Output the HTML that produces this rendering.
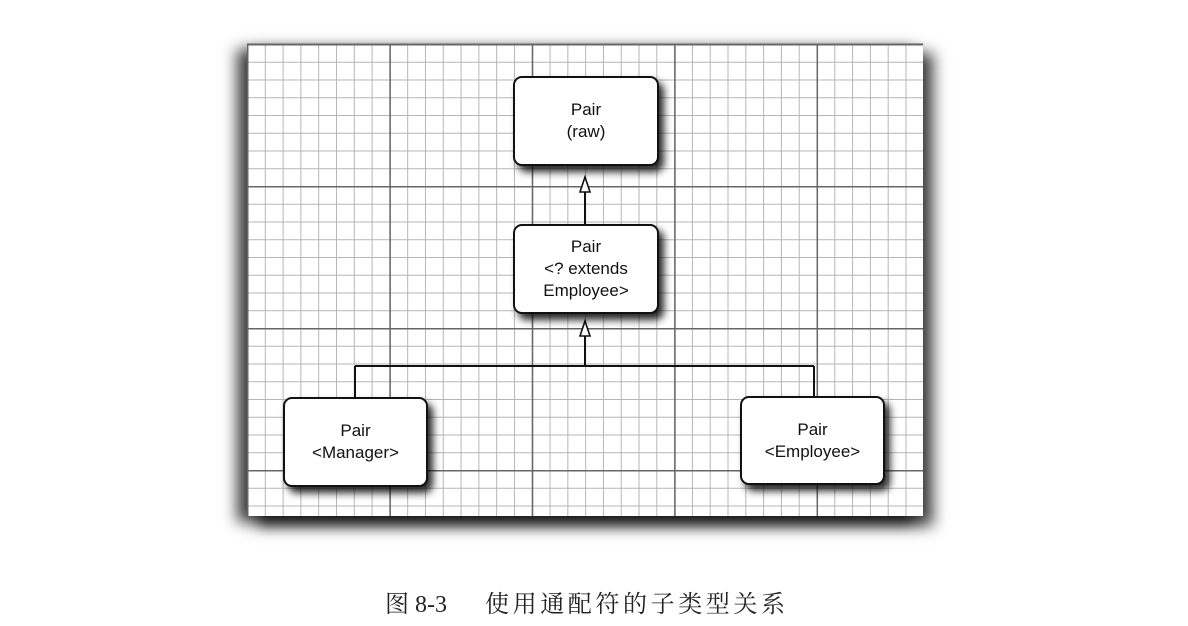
<!DOCTYPE html>
<html><head><meta charset="utf-8"><style>
body{margin:0;width:1188px;height:626px;background:#fff;overflow:hidden;position:relative;font-family:"Liberation Sans",sans-serif}
#grid{position:absolute;left:247px;top:43px;width:676px;height:472px;
background-color:#fff;
background-image:
linear-gradient(to right,#666 1.3px,transparent 1.3px),
linear-gradient(to bottom,#666 1.3px,transparent 1.3px),
linear-gradient(to right,#b5b5b5 1px,transparent 1px),
linear-gradient(to bottom,#b5b5b5 1px,transparent 1px);
background-size:142.4px 142px,142.4px 142px,17.8px 17.75px,17.8px 17.75px;
box-shadow:-10px 6px 14px rgba(0,0,0,.75), 10px 10px 14px rgba(0,0,0,.75);
border-top:1px solid #999}
.b{position:absolute;background:#fff;border:2px solid #111;border-radius:9px;box-shadow:5px 6px 8px rgba(0,0,0,.85);
display:flex;align-items:center;justify-content:center;text-align:center;font-size:17px;line-height:22px;color:#111}
.cap{position:absolute;top:584px;white-space:nowrap;font-size:24px;font-family:"Liberation Serif","Noto Serif CJK SC",serif;color:#222}
</style></head><body>
<div id="grid"></div>
<svg width="1188" height="626" style="position:absolute;left:0;top:0">
<g stroke="#111" stroke-width="2" fill="none">
<line x1="585" y1="192" x2="585" y2="224"/>
<line x1="585" y1="336" x2="585" y2="366"/>
<line x1="355" y1="366" x2="814" y2="366"/>
<line x1="355" y1="366" x2="355" y2="397"/>
<line x1="814" y1="366" x2="814" y2="396"/>
</g>
<g stroke="#111" stroke-width="1.6" fill="#fff">
<polygon points="585,177 580,192 590,192"/>
<polygon points="585,321 580,336 590,336"/>
</g>
</svg>
<div class="b" style="left:513px;top:76px;width:142px;height:86px">Pair<br>(raw)</div>
<div class="b" style="left:513px;top:224px;width:142px;height:86px">Pair<br>&lt;? extends<br>Employee&gt;</div>
<div class="b" style="left:283px;top:397px;width:141px;height:86px">Pair<br>&lt;Manager&gt;</div>
<div class="b" style="left:740px;top:396px;width:141px;height:85px">Pair<br>&lt;Employee&gt;</div>
<div class="cap" style="left:385px">图 8-3</div>
<div class="cap" style="left:485px;letter-spacing:3.6px">使用通配符的子类型关系</div>
</body></html>
